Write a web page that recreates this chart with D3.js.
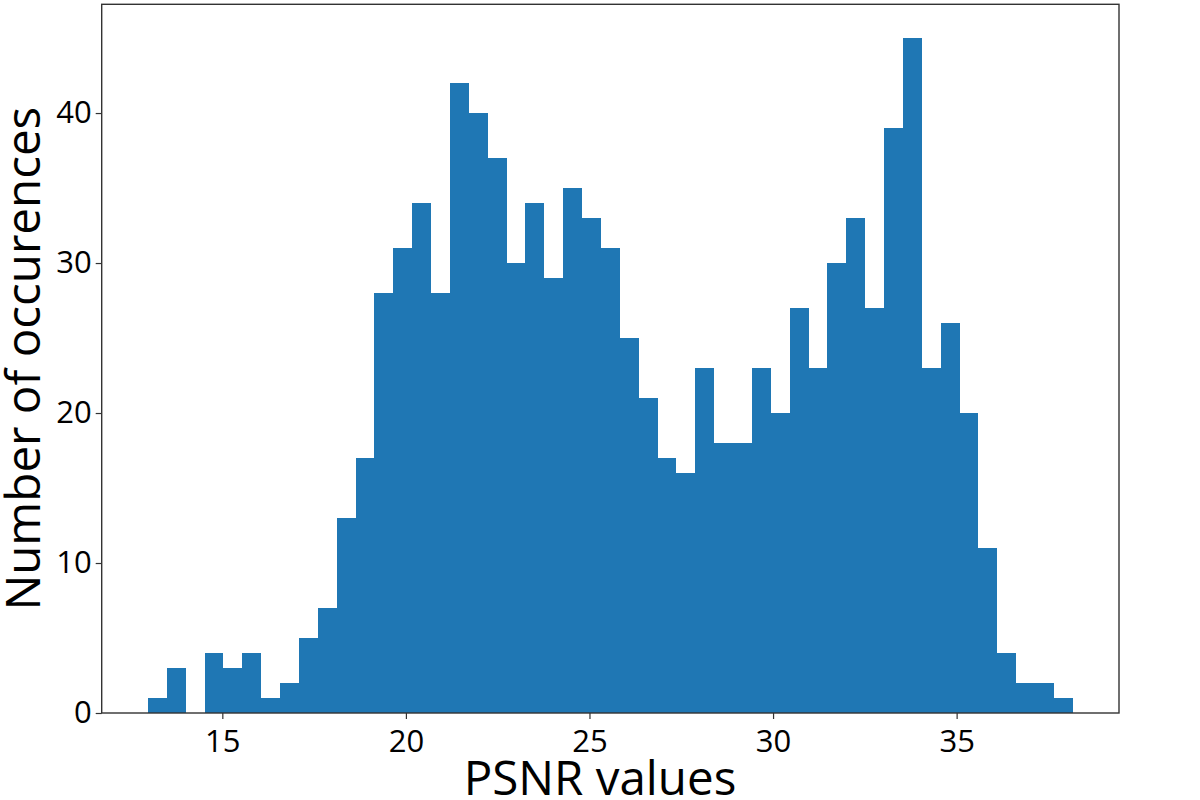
<!DOCTYPE html>
<html>
<head>
<meta charset="utf-8">
<script src="https://cdn.jsdelivr.net/npm/d3@7"></script>
<style>
  html, body { margin: 0; padding: 0; background: #fff; }
  svg { display: block; }
  text { font-family: "Open Sans", "Noto Sans", sans-serif; fill: #000; }
</style>
</head>
<body>
<svg id="chart" width="1200" height="800"></svg>
<script>
// ---- data ----
const binMin = 12.974;   // left edge of first bin
const binMax = 38.163;   // right edge of last bin
const counts = [1, 3, 0, 4, 3, 4, 1, 2, 5, 7,
                13, 17, 28, 31, 34, 28, 42, 40, 37, 30,
                34, 29, 35, 33, 31, 25, 21, 17, 16, 23,
                18, 18, 23, 20, 27, 23, 30, 33, 27, 39,
                45, 23, 26, 20, 11, 4, 2, 2, 1];
const xTicks = [15, 20, 25, 30, 35];
const yTicks = [0, 10, 20, 30, 40];
const xLabel = "PSNR values";
const yLabel = "Number of occurences";

// ---- layout ----
const plotLeft = 101.7, plotRight = 1119, plotTop = 4.3, plotBottom = 713;

const nBins = counts.length;
const bw = (binMax - binMin) / nBins;
const bins = counts.map((c, i) => ({ x0: binMin + i * bw, x1: binMin + (i + 1) * bw, c }));

const pad = 0.05 * (binMax - binMin);
const x = d3.scaleLinear().domain([binMin - pad, binMax + pad]).range([plotLeft, plotRight]);
const yMax = d3.max(counts) * 1.05;
const y = d3.scaleLinear().domain([0, yMax]).range([plotBottom, plotTop]);

const svg = d3.select("#chart");

// bars
svg.append("g").attr("shape-rendering", "crispEdges")
  .selectAll("rect").data(bins.filter(d => d.c > 0)).join("rect")
  .attr("x", d => x(d.x0))
  .attr("width", d => x(d.x1) - x(d.x0))
  .attr("y", d => y(d.c))
  .attr("height", d => y(0) - y(d.c))
  .attr("fill", "#1f77b4");

// axes
const fontTick = 31;
const gx = svg.append("g").attr("transform", `translate(0,${plotBottom})`)
  .call(d3.axisBottom(x).tickValues(xTicks).tickSize(6).tickPadding(11).tickFormat(d3.format("d")));
const gy = svg.append("g").attr("transform", `translate(${plotLeft},0)`)
  .call(d3.axisLeft(y).tickValues(yTicks).tickSize(6).tickPadding(4).tickFormat(d3.format("d")));
[gx, gy].forEach(g => {
  g.select(".domain").remove();
  g.selectAll(".tick line").attr("stroke", "#333").attr("stroke-width", 1.2);
  g.selectAll(".tick text").attr("font-size", fontTick).attr("font-family", "'Open Sans', sans-serif").attr("fill", "#000");
});

// frame
svg.append("rect")
  .attr("x", plotLeft).attr("y", plotTop)
  .attr("width", plotRight - plotLeft).attr("height", plotBottom - plotTop)
  .attr("fill", "none").attr("stroke", "#333").attr("stroke-width", 1.4);

// axis labels
svg.append("text")
  .attr("x", 600).attr("y", 795)
  .attr("text-anchor", "middle")
  .attr("font-size", 47.5)
  .text(xLabel);

svg.append("text")
  .attr("transform", `translate(40,${(plotTop + plotBottom) / 2}) rotate(-90)`)
  .attr("text-anchor", "middle")
  .attr("font-size", 47.5)
  .text(yLabel);
</script>
</body>
</html>
